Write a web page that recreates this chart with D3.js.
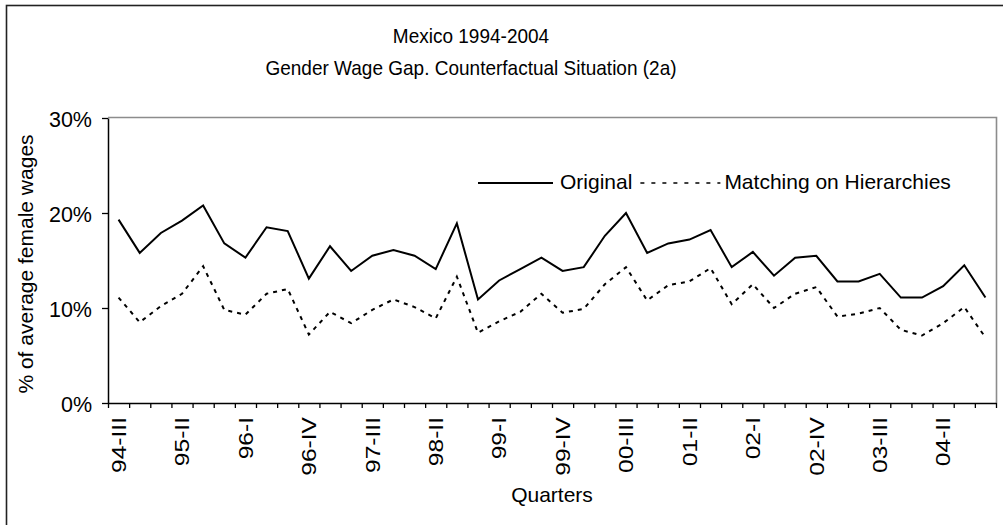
<html>
<head>
<meta charset="utf-8" />
<style>
  html, body { margin: 0; padding: 0; background: #fff; }
  text { font-family: "Liberation Sans", Arial, sans-serif; fill: #000; }
</style>
</head>
<body>
<div id="graph"></div>
<script src="https://cdnjs.cloudflare.com/ajax/libs/d3/7.8.5/d3.min.js"></script>
<script>

var quarters = ["94-III","94-IV",
  "95-I","95-II","95-III","95-IV",
  "96-I","96-II","96-III","96-IV",
  "97-I","97-II","97-III","97-IV",
  "98-I","98-II","98-III","98-IV",
  "99-I","99-II","99-III","99-IV",
  "00-I","00-II","00-III","00-IV",
  "01-I","01-II","01-III","01-IV",
  "02-I","02-II","02-III","02-IV",
  "03-I","03-II","03-III","03-IV",
  "04-I","04-II","04-III","04-IV"];

// labelled quarters on the x axis
var tickLabels = ["94-III","95-II","96-I","96-IV","97-III","98-II","99-I",
  "99-IV","00-III","01-II","02-I","02-IV","03-III","04-II"];

// % of average female wages
var original = [19.3,15.8,17.9,19.2,20.8,16.8,15.3,18.5,18.1,13.1,
  16.5,13.9,15.5,16.1,15.5,14.1,18.9,10.9,12.9,14.1,
  15.3,13.9,14.3,17.6,20.0,15.8,16.8,17.2,18.2,14.3,
  15.9,13.4,15.3,15.5,12.8,12.8,13.6,11.1,11.1,12.3,
  14.5,11.1];
var matching = [11.1,8.5,10.2,11.5,14.4,9.8,9.3,11.5,12.0,7.2,
  9.6,8.4,9.8,10.9,10.1,8.9,13.3,7.4,8.6,9.6,
  11.5,9.5,9.9,12.5,14.3,10.8,12.4,12.8,14.2,10.4,
  12.5,10.0,11.5,12.2,9.1,9.4,10.0,7.7,7.1,8.4,
  10.1,6.9];

var seriesNames = ["Original", "Matching on Hierarchies"];
var yTicks = [0, 10, 20, 30];

var titleLines = ["Mexico 1994-2004", "Gender Wage Gap. Counterfactual Situation (2a)"];

var width = 1003, height = 525;
var margin = {top: 118, left: 108, bottom: 122, right: 7};

var svg = d3.select("#graph").append("svg")
    .attr("width", width)
    .attr("height", height);

// outer chart frame (cut off at right/bottom as in the source)
svg.append("rect")
    .attr("x", 6.5).attr("y", 5.5)
    .attr("width", 1100).attr("height", 600)
    .attr("fill", "none")
    .attr("stroke", "#222")
    .attr("stroke-width", 1.6);

var x = d3.scaleBand().domain(quarters).range([margin.left, width - margin.right]);
var xi = d3.scaleLinear().domain([0, quarters.length]).range([margin.left, width - margin.right]);
var y = d3.scaleLinear().domain([0, 30]).range([height - margin.bottom, margin.top]);

// plot area border, top and right
svg.append("path")
    .attr("d", "M" + xi(0) + "," + (y(30) - 0.5) + "H" + (xi(quarters.length) + 0.5) + "V" + y(0))
    .attr("fill", "none")
    .attr("stroke", "#8c8c8c")
    .attr("stroke-width", 1.6);

// y axis
var yAxis = svg.append("g")
    .attr("transform", "translate(" + margin.left + ",0)")
    .call(d3.axisLeft(y).tickValues(yTicks).tickFormat(function(d){ return d + "%"; })
      .tickSize(6).tickSizeOuter(0).tickPadding(10));
yAxis.attr("font-family", null).attr("font-size", null);
yAxis.select(".domain").attr("stroke", "#000").attr("stroke-width", 1.5);
yAxis.selectAll(".tick line").attr("stroke", "#000").attr("stroke-width", 1.3);
yAxis.selectAll("text").attr("font-size", 21.5).attr("dy", "0.38em");

// x axis tick marks at the quarter boundaries
var xTicks = svg.append("g")
    .attr("transform", "translate(0," + y(0) + ")")
    .call(d3.axisBottom(xi).tickValues(d3.range(quarters.length + 1))
      .tickFormat("").tickSize(5).tickSizeOuter(0));
xTicks.select(".domain").attr("stroke", "#000").attr("stroke-width", 1.5);
xTicks.selectAll(".tick line").attr("stroke", "#000").attr("stroke-width", 1.3);

// x axis labels, every third quarter
var xLabels = svg.append("g")
    .attr("transform", "translate(0," + y(0) + ")")
    .call(d3.axisBottom(x).tickValues(tickLabels).tickSize(0));
xLabels.attr("font-family", null).attr("font-size", null);
xLabels.select(".domain").remove();
xLabels.selectAll("text")
    .attr("font-size", 21)
    .attr("transform", "scale(1,1.17) rotate(-90)")
    .attr("x", -12)
    .attr("y", 0)
    .attr("dy", "0.35em")
    .style("text-anchor", "end");

// lines
var line = d3.line()
    .x(function(d, i){ return x(quarters[i]) + x.bandwidth() / 2; })
    .y(function(d){ return y(d); });

svg.append("path")
    .datum(matching)
    .attr("d", line)
    .attr("fill", "none")
    .attr("stroke", "#000")
    .attr("stroke-width", 2)
    .attr("stroke-dasharray", "4,5");

svg.append("path")
    .datum(original)
    .attr("d", line)
    .attr("fill", "none")
    .attr("stroke", "#000")
    .attr("stroke-width", 2);

// titles
svg.selectAll(".title")
    .data(titleLines)
    .enter().append("text")
    .attr("class", "title")
    .attr("transform", function(d, i){ return "translate(471," + (42.5 + i * 32.5) + ") scale(1,1.1)"; })
    .attr("text-anchor", "middle")
    .attr("font-size", 19)
    .text(function(d){ return d; });

svg.append("text")
    .attr("x", (xi(0) + xi(quarters.length)) / 2)
    .attr("y", 502)
    .attr("text-anchor", "middle")
    .attr("font-size", 21)
    .text("Quarters");

svg.append("text")
    .attr("transform", "translate(33,264) rotate(-90)")
    .attr("text-anchor", "middle")
    .attr("font-size", 21)
    .text("% of average female wages");

// legend
var legend = svg.append("g").attr("transform", "translate(478,183)");
var lx = 0;
seriesNames.forEach(function(name, i) {
  var len = i == 0 ? 75 : 80;
  legend.append("line")
      .attr("x1", lx).attr("x2", lx + len)
      .attr("y1", 0).attr("y2", 0)
      .attr("stroke", "#000")
      .attr("stroke-width", i == 0 ? 2 : 1.6)
      .attr("stroke-dasharray", i == 0 ? null : "4,7");
  lx += len + (i == 0 ? 7 : 4);
  var t = legend.append("text")
      .attr("x", lx).attr("y", 6)
      .attr("font-size", 21)
      .text(name);
  lx += t.node().getComputedTextLength() + 8;
});

</script>
</body>
</html>
